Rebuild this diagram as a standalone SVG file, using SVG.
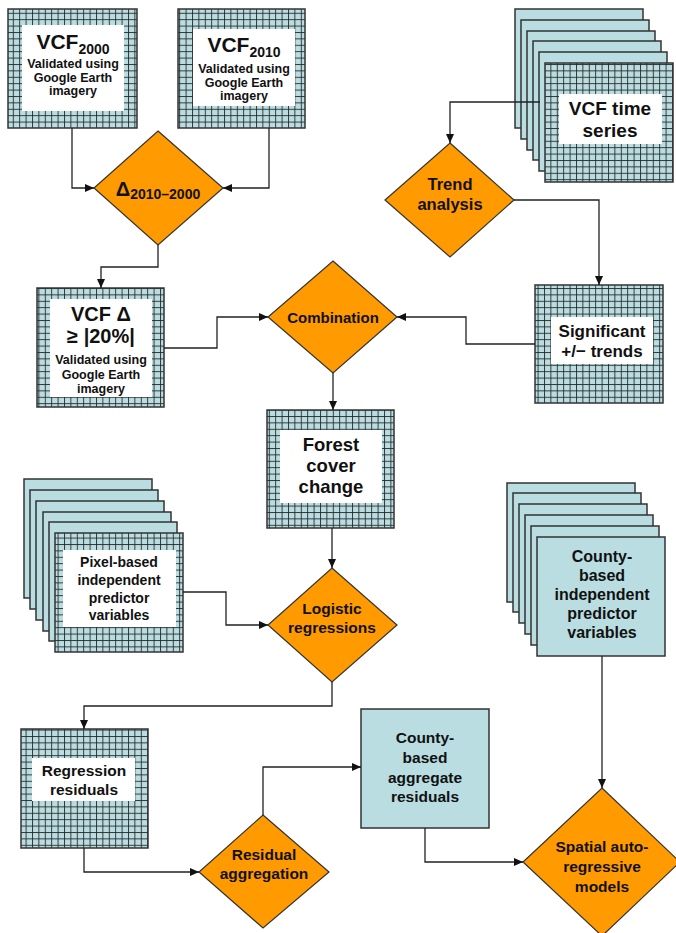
<svg xmlns="http://www.w3.org/2000/svg" width="676" height="933" viewBox="0 0 676 933">
<style>
text{font-family:"Liberation Sans",Arial,sans-serif;font-weight:bold;fill:#111;text-anchor:middle}
.gb{fill:url(#grid);stroke:#333;stroke-width:1.5}
.pb{fill:#B9DDE1;stroke:#333;stroke-width:1.5}
.wh{fill:#fff}
.dm{fill:#FF9A00;stroke:#333;stroke-width:1.2}
.cn{fill:none;stroke:#222;stroke-width:1.3;marker-end:url(#ah)}
</style>
<defs>
<pattern id="grid" width="6.4" height="6.4" patternUnits="userSpaceOnUse">
<rect width="6.4" height="6.4" fill="#B9DDE1"/>
<path d="M0 0.5H6.4M0.5 0V6.4" stroke="#2a2a2a" stroke-width="0.9"/>
</pattern>
<marker id="ah" markerWidth="9" markerHeight="8" refX="9" refY="4" orient="auto" markerUnits="userSpaceOnUse">
<path d="M0 0L9 4L0 8Z" fill="#111"/>
</marker>
</defs>

<g id="vcf2000">
<rect class="gb" x="8" y="9" width="129" height="119"/>
<rect class="wh" x="22" y="25" width="102" height="86"/>
<text x="73" y="49" font-size="21">VCF<tspan font-size="14" dy="5">2000</tspan></text>
<text x="73" y="68" font-size="12.5">Validated using</text>
<text x="73" y="82" font-size="12.5">Google Earth</text>
<text x="73" y="95" font-size="12.5">imagery</text>
</g>

<g id="vcf2010">
<rect class="gb" x="178" y="9" width="127" height="119"/>
<rect class="wh" x="193" y="29" width="102" height="77"/>
<text x="244" y="52" font-size="21">VCF<tspan font-size="14" dy="5">2010</tspan></text>
<text x="244" y="73" font-size="12.5">Validated using</text>
<text x="244" y="87" font-size="12.5">Google Earth</text>
<text x="244" y="100" font-size="12.5">imagery</text>
</g>

<g id="delta">
<polygon class="dm" points="158,131 223,188 158,245 94,188"/>
<text x="158" y="196" font-size="20">Δ<tspan font-size="14" dy="3">2010–2000</tspan></text>
</g>

<g id="vcftimeseries">
<rect class="pb" x="515" y="9" width="128" height="119"/>
<rect class="pb" x="521" y="20" width="128" height="119"/>
<rect class="pb" x="527" y="31" width="128" height="119"/>
<rect class="pb" x="533" y="41" width="128" height="119"/>
<rect class="pb" x="539" y="52" width="128" height="119"/>
<rect class="gb" x="545" y="63" width="128" height="119"/>
<rect class="wh" x="559" y="94" width="103" height="50"/>
<text x="610" y="115" font-size="19">VCF time</text>
<text x="610" y="137" font-size="19">series</text>
</g>

<g id="trend">
<polygon class="dm" points="450,143 514,200 450,257 385,200"/>
<text x="450" y="190" font-size="16.5">Trend</text>
<text x="450" y="210" font-size="16.5">analysis</text>
</g>

<g id="vcfdelta">
<rect class="gb" x="37" y="288" width="127" height="119"/>
<rect class="wh" x="50" y="299" width="102" height="98"/>
<text x="101" y="321" font-size="20">VCF Δ</text>
<text x="101" y="343" font-size="20">≥ |20%|</text>
<text x="101" y="364" font-size="12.5">Validated using</text>
<text x="101" y="379" font-size="12.5">Google Earth</text>
<text x="101" y="393" font-size="12.5">imagery</text>
</g>

<g id="combination">
<polygon class="dm" points="333,261 397,317 333,373 268,317"/>
<text x="333" y="323" font-size="15">Combination</text>
</g>

<g id="significant">
<rect class="gb" x="535" y="285" width="128" height="118"/>
<rect class="wh" x="551" y="317" width="102" height="47"/>
<text x="602" y="337" font-size="17">Significant</text>
<text x="602" y="357" font-size="17">+/− trends</text>
</g>

<g id="forest">
<rect class="gb" x="267" y="410" width="127" height="118"/>
<rect class="wh" x="280" y="430" width="102" height="73"/>
<text x="331" y="451" font-size="18.5">Forest</text>
<text x="331" y="472" font-size="18.5">cover</text>
<text x="331" y="493" font-size="18.5">change</text>
</g>

<g id="pixel">
<rect class="pb" x="24" y="479" width="128" height="119"/>
<rect class="pb" x="30" y="490" width="128" height="119"/>
<rect class="pb" x="36" y="501" width="128" height="119"/>
<rect class="pb" x="43" y="512" width="128" height="119"/>
<rect class="pb" x="49" y="522" width="128" height="119"/>
<rect class="gb" x="55" y="533" width="128" height="119"/>
<rect class="wh" x="63" y="550" width="113" height="77"/>
<text x="119" y="567" font-size="14">Pixel-based</text>
<text x="119" y="585" font-size="14">independent</text>
<text x="119" y="603" font-size="14">predictor</text>
<text x="119" y="620" font-size="14">variables</text>
</g>

<g id="logistic">
<polygon class="dm" points="332,568 397,625 332,682 268,625"/>
<text x="332" y="614" font-size="15.5">Logistic</text>
<text x="332" y="633" font-size="15.5">regressions</text>
</g>

<g id="countypredictors">
<rect class="pb" x="507" y="483" width="128" height="119"/>
<rect class="pb" x="513" y="493" width="128" height="119"/>
<rect class="pb" x="519" y="504" width="128" height="119"/>
<rect class="pb" x="525" y="515" width="128" height="119"/>
<rect class="pb" x="531" y="526" width="128" height="119"/>
<rect class="pb" x="537" y="537" width="128" height="119"/>
<text x="602" y="562" font-size="16">County-</text>
<text x="602" y="581" font-size="16">based</text>
<text x="602" y="600" font-size="16">independent</text>
<text x="602" y="619" font-size="16">predictor</text>
<text x="602" y="638" font-size="16">variables</text>
</g>

<g id="residuals">
<rect class="gb" x="21" y="729" width="127" height="119"/>
<rect class="wh" x="32" y="758" width="103" height="43"/>
<text x="84" y="776" font-size="15.5">Regression</text>
<text x="84" y="795" font-size="15.5">residuals</text>
</g>

<g id="aggregation">
<polygon class="dm" points="263,815 329,872 263,928 199,872"/>
<text x="264" y="860" font-size="15.5">Residual</text>
<text x="264" y="879" font-size="15.5">aggregation</text>
</g>

<g id="countyresiduals">
<rect class="pb" x="361" y="709" width="128" height="119"/>
<text x="425" y="743" font-size="15.5">County-</text>
<text x="425" y="763" font-size="15.5">based</text>
<text x="425" y="783" font-size="15.5">aggregate</text>
<text x="425" y="802" font-size="15.5">residuals</text>
</g>

<g id="spatial">
<polygon class="dm" points="602,788 680,862 602,936 523,862"/>
<text x="602" y="852" font-size="15.5">Spatial auto-</text>
<text x="602" y="872" font-size="15.5">regressive</text>
<text x="602" y="892" font-size="15.5">models</text>
</g>

<g id="connectors">
<path class="cn" d="M72 128V188H94"/>
<path class="cn" d="M269 128V188H223"/>
<path class="cn" d="M158 245V267H101V288"/>
<path class="cn" d="M540 102H450V143"/>
<path class="cn" d="M514 200H599V285"/>
<path class="cn" d="M164 348H217V317H268"/>
<path class="cn" d="M535 344H466V317H397"/>
<path class="cn" d="M333 373V410"/>
<path class="cn" d="M332 528V568"/>
<path class="cn" d="M183 592H226V625H268"/>
<path class="cn" d="M332 682V706H84V729"/>
<path class="cn" d="M84 848V872H199"/>
<path class="cn" d="M263 815V767H361"/>
<path class="cn" d="M602 656V788"/>
<path class="cn" d="M425 828V862H523"/>
</g>
</svg>
